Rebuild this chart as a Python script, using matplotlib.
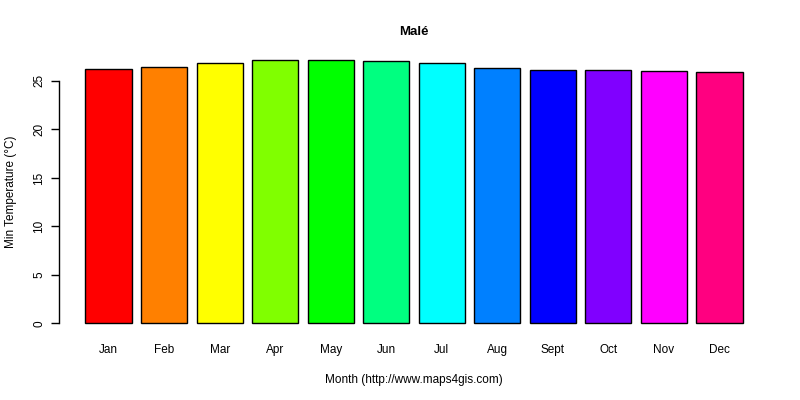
import matplotlib
matplotlib.use("Agg")
import matplotlib.pyplot as plt

months = ["Jan", "Feb", "Mar", "Apr", "May", "Jun",
          "Jul", "Aug", "Sept", "Oct", "Nov", "Dec"]
min_temp = [26.2, 26.4, 26.8, 27.2, 27.2, 27.1,
            26.8, 26.3, 26.1, 26.1, 26.0, 25.9]
bar_colors = ["#FF0000", "#FF8000", "#FFFF00", "#80FF00", "#00FF00", "#00FF80",
              "#00FFFF", "#0080FF", "#0000FF", "#8000FF", "#FF00FF", "#FF0080"]

plt.rcParams['font.family'] = ['Liberation Sans', 'DejaVu Sans']

fig = plt.figure(figsize=(8, 4), dpi=100)
ax = fig.add_axes([0.074, 0.165, 0.887, 0.7125])

# R barplot layout: width 1, space 0.2
xpos = [0.7 + 1.2 * i for i in range(len(months))]
ax.bar(xpos, min_temp, width=1.0, color=bar_colors,
       edgecolor="black", linewidth=1.0)

xmin, xmax = 0.2, xpos[-1] + 0.5
pad = (xmax - xmin) * 0.04
ax.set_xlim(xmin - pad, xmax + pad)
ymax = max(min_temp)
ax.set_ylim(-0.04 * ymax, ymax * 1.04)

for side in ["top", "right", "bottom"]:
    ax.spines[side].set_visible(False)
ax.spines["left"].set_bounds(0, 25)
ax.spines["left"].set_linewidth(1.0)

ax.set_yticks([0, 5, 10, 15, 20, 25])
ax.set_yticklabels(["0", "5", "10", "15", "20", "25"], rotation=90,
                   va="center", fontsize=8.5)
ax.tick_params(axis="y", length=6, width=1.0, pad=4)

ax.set_xticks(xpos)
ax.set_xticklabels(months, fontsize=8.5)
ax.tick_params(axis="x", length=0, pad=7)

ax.set_title("Malé", fontsize=9.5, fontweight="bold", pad=10)
ax.set_xlabel("Month (http://www.maps4gis.com)", fontsize=8.5, labelpad=13)
ax.set_ylabel("Min Temperature (°C)", fontsize=8.5, labelpad=12)

fig.savefig("out.png", dpi=100)
